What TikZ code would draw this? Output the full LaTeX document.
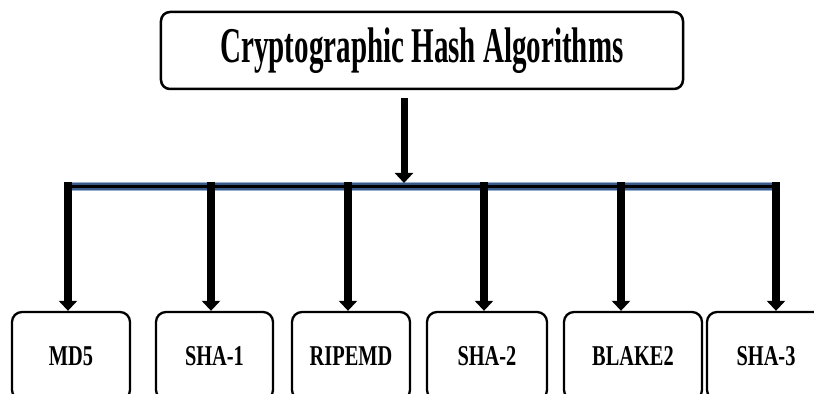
\documentclass[tikz,border=0pt]{standalone}
\usepackage{fontspec}
\newfontfamily\headfont[FakeStretch=0.58]{Liberation Serif}
\newfontfamily\leaffont[FakeStretch=0.71]{Liberation Serif}
\usetikzlibrary{arrows.meta}
\definecolor{busblue}{RGB}{58,90,138}
\definecolor{buslight}{RGB}{150,175,205}
\tikzset{
    algobox/.style={draw, line width=0.75mm, rounded corners=2.7mm, inner sep=0pt,
        minimum width=156.6mm, minimum height=23.1mm, font=\headfont\bfseries\fontsize{42.7}{46}\selectfont},
    leafbox/.style={draw, line width=0.7mm, rounded corners=3mm, inner sep=0pt,
        minimum height=26.4mm, font=\leaffont\bfseries\fontsize{24.5}{28}\selectfont},
    drop/.style={line width=2.4mm, -{Triangle[width=5.4mm,length=3mm]}},
}

\begin{document}
\begin{tikzpicture}[x=0.3mm, y=-0.3mm]
        \useasboundingbox (0,0) rectangle (814,394);
        \pgfmathsetmacro{\busy}{187};
        \node [algobox] (algo) at (422, 50.5) {Cryptographic Hash Algorithms};
        % bus line
        \coordinate (busl) at (68, \busy);
        \coordinate (busr) at (776, \busy);
        \draw [buslight, line width=2.7mm] (busl) -- (busr);
        \draw [busblue, line width=2.1mm] (busl) -- (busr);
        \draw [black, line width=0.9mm] (busl) -- (busr);
        \coordinate (top) at (404, \busy-4);
        \draw [drop, line width=2.1mm, shorten <=2.4mm] (algo.south -| top) -- (top);
        % leaves
        \foreach \name/\cx/\w/\ax/\txt [count=\i] in {md5/71/118/68/MD5, sha1/214.5/117/211/SHA-1,
            ripemd/351/118/348/RIPEMD, sha2/487/120/484/SHA-2, blake/633/138/621/BLAKE2,
            sha3/766/118/776/SHA-3}
        {
            \node [leafbox, minimum width=\w*0.3mm] (\name) at (\cx, 356) {\txt};
            \coordinate (b\i) at (\ax, \busy-5);
            \draw [drop] (b\i) -- (b\i |- \name.north);
        }
    \end{tikzpicture}
\end{document}
